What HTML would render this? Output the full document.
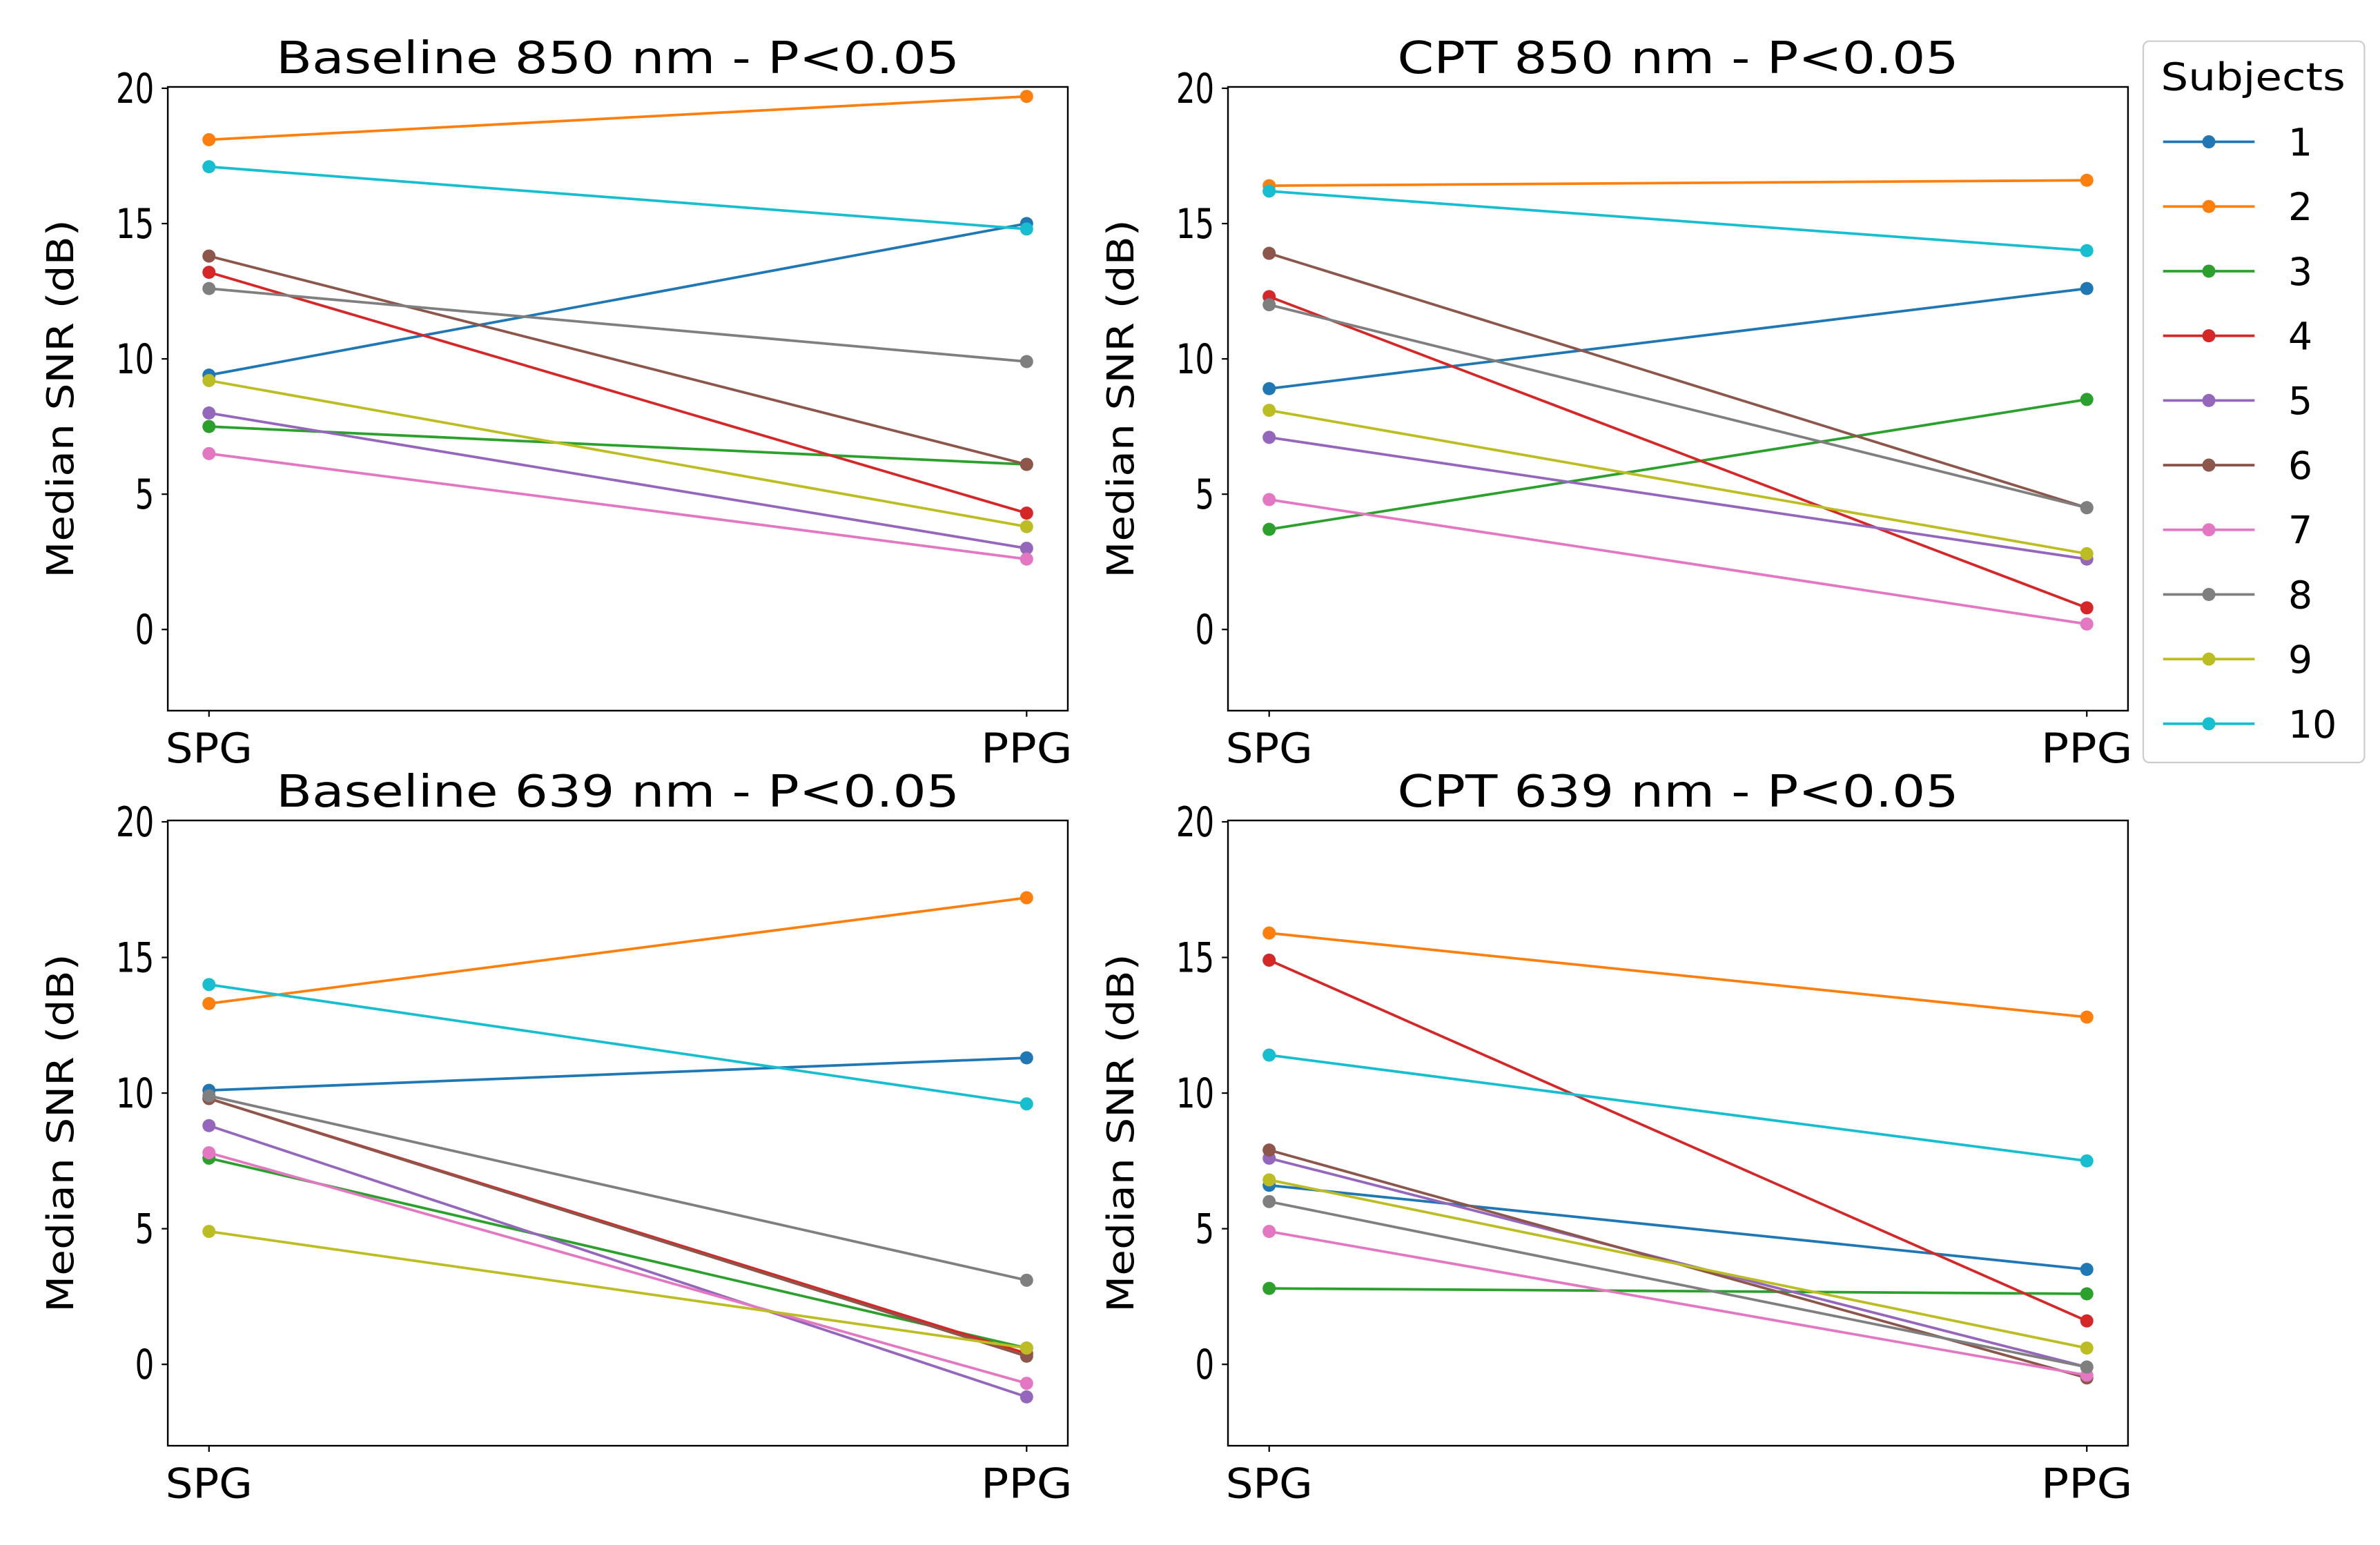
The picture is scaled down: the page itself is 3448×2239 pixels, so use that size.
<!DOCTYPE html>
<html><head><meta charset="utf-8"><style>
html,body{margin:0;padding:0;background:#fff;}
svg{display:block;}
text{font-family:"DejaVu Sans","Liberation Sans",sans-serif;fill:#000;}
</style></head>
<body>
<svg id="fig" width="3448" height="2239" viewBox="0 0 1560.2 1013.1" preserveAspectRatio="none" xmlns="http://www.w3.org/2000/svg"></svg>
<script>
const colors = ["#1f77b4","#ff7f0e","#2ca02c","#d62728","#9467bd","#8c564b","#e377c2","#7f7f7f","#bcbd22","#17becf"];
const subjects = ["1","2","3","4","5","6","7","8","9","10"];
const categories = ["SPG","PPG"];
const yTicks = [0,5,10,15,20];
const b850Spg = [9.4,18.1,7.5,13.2,8.0,13.8,6.5,12.6,9.2,17.1];
const b850Ppg = [15.0,19.7,6.1,4.3,3.0,6.1,2.6,9.9,3.8,14.8];
const c850Spg = [8.9,16.4,3.7,12.3,7.1,13.9,4.8,12.0,8.1,16.2];
const c850Ppg = [12.6,16.6,8.5,0.8,2.6,4.5,0.2,4.5,2.8,14.0];
const b639Spg = [10.1,13.3,7.6,9.8,8.8,9.8,7.8,9.9,4.9,14.0];
const b639Ppg = [11.3,17.2,0.6,0.4,-1.2,0.3,-0.7,3.1,0.6,9.6];
const c639Spg = [6.6,15.9,2.8,14.9,7.6,7.9,4.9,6.0,6.8,11.4];
const c639Ppg = [3.5,12.8,2.6,1.6,-0.1,-0.5,-0.4,-0.1,0.6,7.5];

const NS="http://www.w3.org/2000/svg";
const svg=document.getElementById('fig');
function mk(tag,attrs,parent){const e=document.createElementNS(NS,tag);for(const k in attrs)e.setAttribute(k,attrs[k]);(parent||svg).appendChild(e);return e;}

const panels=[
 {title:"Baseline 850 nm - P<0.05",tw:448,x0:110,x1:700,y0:57,y1:466,spg:b850Spg,ppg:b850Ppg,name:"baseline-850"},
 {title:"CPT 850 nm - P<0.05",tw:368,x0:805,x1:1395,y0:57,y1:466,spg:c850Spg,ppg:c850Ppg,name:"cpt-850"},
 {title:"Baseline 639 nm - P<0.05",tw:448,x0:110,x1:700,y0:538,y1:948,spg:b639Spg,ppg:b639Ppg,name:"baseline-639"},
 {title:"CPT 639 nm - P<0.05",tw:368,x0:805,x1:1395,y0:538,y1:948,spg:c639Spg,ppg:c639Ppg,name:"cpt-639"}
];
const yMin=-3,yMax=20.05;
panels.forEach(p=>{
  const g=mk('g',{});
  
  
  const yS=v=>p.y1-(v-yMin)/(yMax-yMin)*(p.y1-p.y0);
  const xS=i=>p.x0+27+i*(p.x1-p.x0-54);
  const cx=(p.x0+p.x1)/2;
  const t=mk('text',{x:cx,y:p.y0-9,'font-size':29,'text-anchor':'middle',textLength:p.tw,lengthAdjust:'spacingAndGlyphs'},g);
  t.textContent=p.title;
  
  
  const yl=mk('text',{x:0,y:0,'font-size':24,'text-anchor':'middle',textLength:235,lengthAdjust:'spacingAndGlyphs',transform:`translate(${p.x0-62},${(p.y0+p.y1)/2}) rotate(-90)`},g);
  yl.textContent="Median SNR (dB)";
  
  
  yTicks.forEach(v=>{
    const y=yS(v);
    mk('line',{x1:p.x0-4,x2:p.x0,y1:y,y2:y,stroke:'#000','stroke-width':1},g);
    const tl=mk('text',{x:p.x0-9,y:y+9.5,'font-size':27,'text-anchor':'end',textLength:String(v).length*12.5,lengthAdjust:'spacingAndGlyphs'},g);
    tl.textContent=String(v);
    
    
  });
  categories.forEach((c,i)=>{
    const x=xS(i);
    mk('line',{x1:x,x2:x,y1:p.y1,y2:p.y1+4,stroke:'#000','stroke-width':1},g);
    const tl=mk('text',{x:x,y:p.y1+34,'font-size':27,'text-anchor':'middle',textLength:i?60:57,lengthAdjust:'spacingAndGlyphs'},g);
    tl.textContent=c;
    
    
  });
  subjects.forEach((s,k)=>{
    const sg=mk('g',{},g);
    
    
    const vals=[p.spg[k],p.ppg[k]];
    mk('line',{x1:xS(0),y1:yS(vals[0]),x2:xS(1),y2:yS(vals[1]),stroke:colors[k],'stroke-width':1.7},sg);
    vals.forEach((v,i)=>{
      const c=mk('circle',{cx:xS(i),cy:yS(v),r:4.3,fill:colors[k]},sg);
      
      
    });
  });
  const fr=mk('rect',{x:p.x0,y:p.y0,width:p.x1-p.x0,height:p.y1-p.y0,fill:'none',stroke:'#000','stroke-width':1.1},g);
  
  
});
const lg=mk('g',{});


mk('rect',{x:1405,y:27,width:145,height:473,rx:4,fill:'#fff',stroke:'#ccc','stroke-width':1},lg);
const lt=mk('text',{x:1477,y:59,'font-size':25,'text-anchor':'middle',textLength:121,lengthAdjust:'spacingAndGlyphs'},lg);
lt.textContent="Subjects";


subjects.forEach((s,k)=>{
  const y=93+k*42.4;
  const e=mk('g',{},lg);
  
  
  mk('line',{x1:1418,x2:1478,y1:y,y2:y,stroke:colors[k],'stroke-width':1.7},e);
  mk('circle',{cx:1448,cy:y,r:4.3,fill:colors[k]},e);
  const tx=mk('text',{x:1500,y:y+9,'font-size':25},e);
  tx.textContent=s;
});
</script>
</body></html>
